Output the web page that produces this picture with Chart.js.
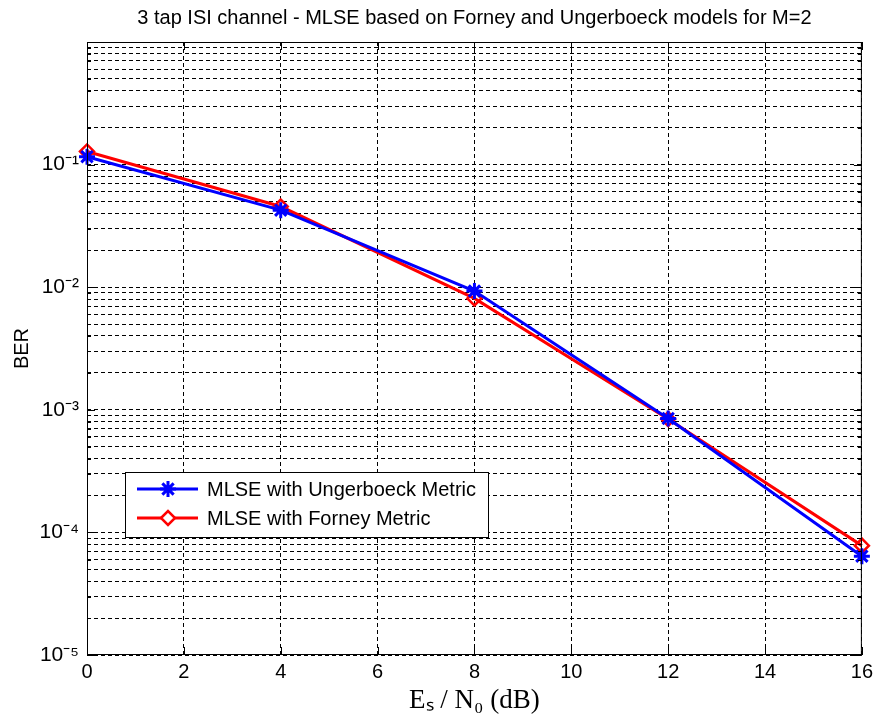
<!DOCTYPE html>
<html>
<head>
<meta charset="utf-8">
<script src="https://cdn.jsdelivr.net/npm/chart.js@4.4.0/dist/chart.umd.min.js"></script>
<style>
  html, body { margin: 0; padding: 0; background: #fff; }
  #wrap { width: 878px; height: 718px; }
</style>
</head>
<body>
<div id="wrap"><canvas id="ber"></canvas></div>
<script>
// Es/N0 values (dB)
var snrDb = [0, 4, 8, 12, 16];
// BER
var berUngerboeck = [0.116, 0.0425, 0.0093, 0.00085, 0.000064];
var berForney = [0.128, 0.0455, 0.0081, 0.00084, 0.000078];
var xTicks = [0, 2, 4, 6, 8, 10, 12, 14, 16];
var decades = [-5, -4, -3, -2, -1];
var supers = { '-': '\u207B', '1': '\u00B9', '2': '\u00B2', '3': '\u00B3', '4': '\u2074', '5': '\u2075', '0': '\u2070' };

var sansFont = '"Liberation Sans Narrow", "Liberation Sans", Arial, sans-serif';

function pow10Label(e) {
    return '10' + String(e).split('').map(function (c) { return supers[c]; }).join('');
}

function toPoints(ys) {
    return snrDb.map(function (x, i) { return { x: x, y: ys[i] }; });
}

// frame + inward tick marks, like matlab's box on
var framePlugin = {
    id: 'frame',
    afterDatasetsDraw: function (chart) {
        var ctx = chart.ctx, a = chart.chartArea;
        var xs = chart.scales.x, ys = chart.scales.y;
        ctx.save();
        ctx.strokeStyle = '#000';
        ctx.lineWidth = 1;
        ctx.setLineDash([]);
        ctx.strokeRect(a.left + 0.5, a.top + 0.5, a.right - a.left - 1, a.bottom - a.top - 1);
        ctx.beginPath();
        xTicks.forEach(function (v) {
            var px = Math.round(xs.getPixelForValue(v)) + 0.5;
            ctx.moveTo(px, a.bottom); ctx.lineTo(px, a.bottom - 8);
            ctx.moveTo(px, a.top); ctx.lineTo(px, a.top + 8);
        });
        ys.ticks.forEach(function (t) {
            var py = Math.round(ys.getPixelForValue(t.value)) + 0.5;
            var len = t.major ? 8 : 4;
            ctx.moveTo(a.left, py); ctx.lineTo(a.left + len, py);
            ctx.moveTo(a.right, py); ctx.lineTo(a.right - len, py);
        });
        ctx.stroke();
        ctx.restore();
    }
};

// legend box inside the axes (lower left)
var boxLegend = {
    id: 'boxLegend',
    afterDraw: function (chart) {
        var ctx = chart.ctx, a = chart.chartArea;
        var bx = a.left + 38, by = a.top + 430, bw = 363, bh = 65;
        ctx.save();
        ctx.fillStyle = '#fff';
        ctx.fillRect(bx, by, bw, bh);
        ctx.strokeStyle = '#000';
        ctx.lineWidth = 1;
        ctx.strokeRect(bx + 0.5, by + 0.5, bw, bh);
        chart.data.datasets.forEach(function (ds, i) {
            var cy = by + 17 + i * 29;
            ctx.strokeStyle = ds.borderColor;
            ctx.lineWidth = ds.borderWidth;
            ctx.beginPath();
            ctx.moveTo(bx + 12, cy); ctx.lineTo(bx + 73, cy);
            ctx.stroke();
            ctx.fillStyle = '#fff';
            ctx.strokeStyle = ds.pointBorderColor;
            ctx.lineWidth = ds.pointBorderWidth;
            Chart.helpers.drawPoint(ctx, {
                pointStyle: ds.pointStyle, radius: ds.pointRadius, rotation: 0,
                borderWidth: ds.pointBorderWidth
            }, bx + 43, cy);
            ctx.fillStyle = '#000';
            ctx.font = '20px "Liberation Sans", Arial, sans-serif';
            ctx.textBaseline = 'middle';
            ctx.fillText(ds.label, bx + 82, cy + 1);
        });
        ctx.restore();
    }
};

new Chart(document.getElementById('ber'), {
    type: 'line',
    data: {
        datasets: [
            {
                label: 'MLSE with Ungerboeck Metric',
                data: toPoints(berUngerboeck),
                borderColor: '#0000ff',
                backgroundColor: '#0000ff',
                borderWidth: 3,
                pointStyle: 'star',
                pointRadius: 8,
                pointBorderWidth: 3,
                pointBorderColor: '#0000ff',
                clip: false,
                tension: 0
            },
            {
                label: 'MLSE with Forney Metric',
                data: toPoints(berForney),
                borderColor: '#ff0000',
                backgroundColor: 'rgba(255,255,255,0)',
                borderWidth: 3,
                pointStyle: 'rectRot',
                pointRadius: 7,
                pointBorderWidth: 2.5,
                pointBorderColor: '#ff0000',
                clip: false,
                tension: 0
            }
        ]
    },
    options: {
        animation: false,
        responsive: true,
        maintainAspectRatio: false,
        layout: { padding: { right: 14, left: 0, top: 0, bottom: 0 } },
        plugins: {
            legend: { display: false },
            tooltip: { enabled: false },
            title: {
                display: true,
                fullSize: false,
                text: '3 tap ISI channel - MLSE based on Forney and Ungerboeck models for M=2',
                color: '#000',
                font: { family: '"Liberation Sans", Arial, sans-serif', size: 20, weight: 'normal' },
                padding: { top: 6, bottom: 12 }
            }
        },
        scales: {
            x: {
                type: 'linear',
                min: 0,
                max: 16,
                afterBuildTicks: function (s) {
                    s.ticks = xTicks.map(function (v) { return { value: v }; });
                },
                afterFit: function (s) { s.height = 63; },
                grid: { color: '#000', lineWidth: 1, drawTicks: false },
                border: { display: false, dash: [4, 3] },
                ticks: {
                    color: '#000',
                    padding: 5,
                    font: { family: sansFont, size: 20 }
                },
                title: {
                    display: true,
                    text: 'E\u209B / N\u2080 (dB)',
                    color: '#000',
                    font: { family: '"Liberation Serif", "Times New Roman", serif', size: 27 },
                    padding: { top: 0, bottom: 1 }
                }
            },
            y: {
                type: 'logarithmic',
                min: 1e-5,
                max: 1,
                afterBuildTicks: function (s) {
                    var t = [];
                    decades.forEach(function (e) {
                        for (var m = 1; m <= 9; m++) {
                            t.push({ value: m * Math.pow(10, e), major: m === 1 });
                        }
                    });
                    t.push({ value: 1, major: true });
                    s.ticks = t;
                },
                afterFit: function (s) { s.width = 87; },
                grid: { color: '#000', lineWidth: 1, drawTicks: false },
                border: { display: false, dash: [4, 3] },
                ticks: {
                    color: '#000',
                    padding: 8,
                    autoSkip: false,
                    font: { family: sansFont, size: 21 },
                    callback: function (v) {
                        var e = Math.round(Math.log10(v));
                        if (Math.abs(v - Math.pow(10, e)) > 1e-12 * Math.pow(10, e)) return '';
                        if (e === 0) return '';
                        return pow10Label(e);
                    }
                },
                title: {
                    display: true,
                    text: 'BER',
                    color: '#000',
                    font: { family: sansFont, size: 20 },
                    padding: { top: 10, bottom: 0 }
                }
            }
        }
    },
    plugins: [framePlugin, boxLegend]
});
</script>
</body>
</html>
